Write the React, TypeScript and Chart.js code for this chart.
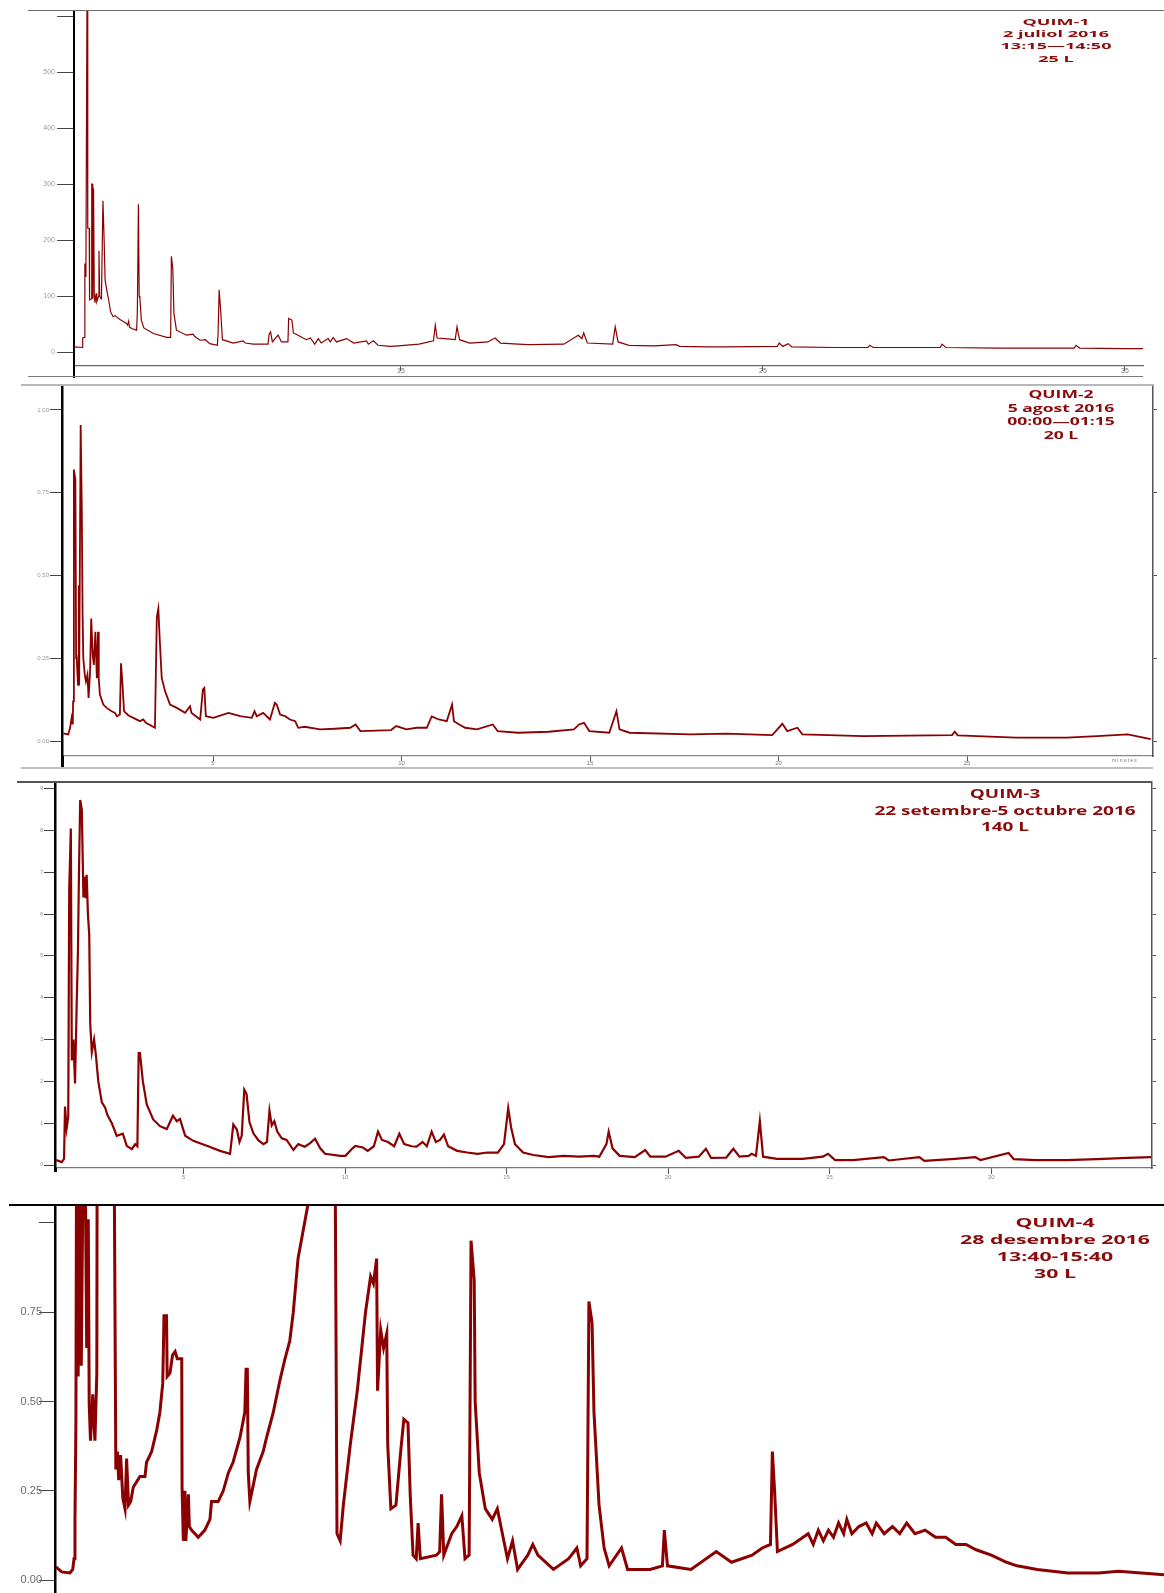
import React, { useEffect, useRef } from 'react';
import { Chart, registerables } from 'chart.js';

Chart.register(...registerables);

// ---- QUIM-1 chromatogram (retention time in minutes, detector response) ----
const P1_TIME = [
  5.97, 6.2, 6.21, 6.26, 6.27, 6.29, 6.3, 6.33, 6.35, 6.39, 6.4, 6.45, 6.46, 6.48, 6.49, 6.51, 6.53, 6.55,
  6.58, 6.6, 6.65, 6.66, 6.68, 6.72, 6.73, 6.77, 6.8, 6.83, 6.85, 6.89, 6.92, 6.98, 7.05, 7.1, 7.24, 7.3,
  7.42, 7.45, 7.48, 7.5, 7.56, 7.7, 7.72, 7.75, 7.77, 7.79, 7.83, 7.9, 8.16, 8.53, 8.64, 8.66, 8.7, 8.73,
  8.8, 9.08, 9.26, 9.3, 9.45, 9.6, 9.72, 9.93, 9.95, 9.98, 10.02, 10.07, 10.37, 10.64, 10.7, 10.92, 11.33,
  11.36, 11.4, 11.45, 11.61, 11.7, 11.88, 11.9, 11.99, 12.03, 12.16, 12.3, 12.39, 12.5, 12.62, 12.72, 12.8,
  12.99, 13.05, 13.13, 13.22, 13.5, 13.7, 14.05, 14.1, 14.24, 14.37, 14.7, 14.93, 15.5, 15.9, 15.95, 16.0,
  16.2, 16.5, 16.55, 16.62, 16.9, 17.4, 17.6, 17.75, 18.5, 19.5, 19.9, 20.0, 20.05, 20.15, 20.85, 20.92,
  21.0, 21.3, 22.0, 22.6, 22.7, 23.5, 24.0, 25.4, 25.45, 25.55, 25.7, 25.8, 27.0, 27.9, 27.95, 28.05, 29.9,
  29.95, 30.05, 31.5, 33.6, 33.65, 33.75, 35.0, 35.5,
];
const P1_SIGNAL = [
  9, 8, 25, 26, 158, 135, 160, 650, 221, 221, 93, 95, 300, 300, 95, 292, 100, 88,
  105, 90, 100, 181, 100, 95, 105, 270, 206, 128, 128, 105, 96, 72, 63, 65, 58, 56,
  51, 48, 55, 45, 42, 39, 72, 264, 100, 96, 57, 43, 33, 26, 26, 171, 148, 69,
  39, 30, 32, 28, 21, 22, 15, 12, 33, 111, 75, 22, 16, 20, 16, 14, 14,
  32, 36, 18, 30, 18, 18, 60, 57, 34, 30, 25, 22, 25, 14, 24, 16,
  24, 18, 26, 18, 24, 16, 20, 14, 20, 12, 10, 11, 14, 20, 48, 25,
  24, 22, 45, 22, 16, 18, 25, 16, 13, 14, 30, 24, 34, 16, 14, 45,
  18, 12, 11, 13, 10, 9, 9, 10, 16, 10, 15, 9, 8, 8, 12, 8, 8,
  14, 8, 7, 7, 12, 7, 6, 6,
];
const P1_X_TICKS = [15, 25, 35];
const P1_Y_TICKS = [0, 100, 200, 300, 400, 500, 600];
const P1_TITLE = ['QUIM-1', '2 juliol 2016', '13:15\u201414:50', '25 L'];

// ---- QUIM-2 chromatogram ----
const P2_TIME = [
  1.03, 1.16, 1.21, 1.25, 1.28, 1.29, 1.31, 1.35, 1.37, 1.38, 1.42, 1.44, 1.45, 1.49, 1.52, 1.54, 1.56, 1.6,
  1.63, 1.67, 1.7, 1.74, 1.77, 1.81, 1.84, 1.88, 1.92, 1.95, 1.97, 2.0, 2.09, 2.18, 2.31, 2.4, 2.45, 2.53,
  2.56, 2.6, 2.64, 2.75, 3.06, 3.15, 3.22, 3.46, 3.51, 3.55, 3.59, 3.64, 3.73, 3.86, 4.04, 4.26, 4.39, 4.43,
  4.66, 4.73, 4.77, 4.81, 5.01, 5.41, 5.72, 6.03, 6.1, 6.16, 6.33, 6.51, 6.64, 6.69, 6.78, 6.91, 7.04, 7.18,
  7.26, 7.43, 7.84, 8.24, 8.64, 8.78, 8.91, 9.72, 9.86, 10.13, 10.4, 10.67, 10.8, 10.99, 11.2, 11.34, 11.39,
  11.53, 11.69, 12.0, 12.42, 12.55, 13.09, 13.9, 14.57, 14.71, 14.84, 14.98, 15.51, 15.7, 15.78, 16.05,
  17.67, 18.61, 19.83, 20.1, 20.23, 20.5, 20.63, 22.25, 24.6, 24.67, 24.75, 26.3, 27.64, 28.45, 29.26, 29.87,
];
const P2_SIGNAL = [
  0.023, 0.02, 0.04, 0.07, 0.05, 0.12, 0.82, 0.79, 0.25, 0.26, 0.17, 0.47, 0.17, 0.955, 0.7, 0.39, 0.25, 0.2,
  0.18, 0.2, 0.13, 0.21, 0.37, 0.26, 0.23, 0.33, 0.19, 0.33, 0.19, 0.14, 0.11, 0.1, 0.09, 0.085, 0.075, 0.08,
  0.235, 0.17, 0.09, 0.078, 0.06, 0.065, 0.055, 0.04, 0.375, 0.4, 0.3, 0.19, 0.15, 0.11, 0.1, 0.085, 0.105, 0.085,
  0.065, 0.155, 0.16, 0.075, 0.07, 0.085, 0.075, 0.07, 0.09, 0.075, 0.085, 0.065, 0.115, 0.11, 0.08, 0.075, 0.065, 0.06,
  0.04, 0.043, 0.035, 0.037, 0.04, 0.05, 0.03, 0.033, 0.045, 0.035, 0.04, 0.04, 0.074, 0.065, 0.06, 0.11, 0.06,
  0.05, 0.04, 0.035, 0.05, 0.03, 0.025, 0.028, 0.035, 0.05, 0.055, 0.03, 0.025, 0.09, 0.035, 0.025,
  0.02, 0.022, 0.018, 0.052, 0.03, 0.04, 0.02, 0.015, 0.018, 0.028, 0.017, 0.01, 0.01, 0.015, 0.02, 0.006,
];
const P2_X_TICKS = [5, 10, 15, 20, 25];
const P2_Y_TICKS = [0, 0.25, 0.5, 0.75, 1.0];
const P2_TITLE = ['QUIM-2', '5 agost 2016', '00:00\u201401:15', '20 L'];

// ---- QUIM-3 chromatogram ----
const P3_TIME = [
  1.05, 1.23, 1.3, 1.33, 1.38, 1.43, 1.46, 1.51, 1.54, 1.59, 1.64, 1.69, 1.73, 1.76, 1.8, 1.85, 1.9, 1.94,
  1.97, 2.0, 2.04, 2.08, 2.11, 2.16, 2.23, 2.29, 2.36, 2.47, 2.57, 2.64, 2.78, 2.93, 3.12, 3.24, 3.4, 3.5,
  3.57, 3.61, 3.65, 3.74, 3.86, 4.06, 4.27, 4.48, 4.67, 4.79, 4.89, 5.05, 5.3, 5.72, 6.13, 6.44, 6.54, 6.65,
  6.73, 6.8, 6.88, 6.95, 7.04, 7.16, 7.32, 7.47, 7.58, 7.66, 7.73, 7.81, 7.9, 8.04, 8.19, 8.4, 8.55, 8.75,
  8.91, 9.07, 9.23, 9.38, 9.85, 10.01, 10.23, 10.32, 10.55, 10.7, 10.89, 11.02, 11.14, 11.33, 11.52, 11.68,
  11.83, 12.06, 12.21, 12.4, 12.53, 12.68, 12.81, 12.94, 13.06, 13.19, 13.47, 13.78, 14.1, 14.41, 14.73,
  14.92, 15.05, 15.14, 15.26, 15.51, 15.83, 16.3, 16.77, 17.24, 17.71, 17.87, 18.09, 18.16, 18.28, 18.5,
  18.97, 19.29, 19.45, 19.92, 20.33, 20.55, 20.95, 21.17, 21.33, 21.8, 22.02, 22.21, 22.49, 22.59, 22.72,
  22.84, 22.94, 23.37, 24.16, 24.79, 24.95, 25.17, 25.73, 26.68, 26.83, 27.78, 27.93, 28.88, 29.51, 29.67,
  30.54, 30.7, 31.39, 32.34, 33.28, 34.22, 34.95,
];
const P3_SIGNAL = [
  0.12, 0.07, 0.15, 1.4, 0.88, 1.15, 6.58, 8.05, 2.5, 3.0, 1.95, 3.8, 5.1, 6.87, 8.73, 8.5, 6.4, 6.9,
  6.38, 6.94, 6.0, 5.5, 3.4, 2.7, 3.0, 2.6, 2.0, 1.5, 1.38, 1.2, 1.0, 0.7, 0.75, 0.46, 0.38, 0.5,
  0.45, 2.68, 2.68, 2.0, 1.45, 1.09, 0.93, 0.86, 1.18, 1.05, 1.1, 0.7, 0.58, 0.46, 0.34, 0.27, 0.97, 0.85,
  0.55, 0.7, 1.8, 1.7, 1.03, 0.76, 0.59, 0.5, 0.55, 1.3, 0.95, 1.05, 0.8, 0.64, 0.6, 0.36, 0.5, 0.44,
  0.52, 0.63, 0.4, 0.27, 0.22, 0.22, 0.4, 0.46, 0.42, 0.34, 0.45, 0.8, 0.6, 0.55, 0.45, 0.75,
  0.5, 0.45, 0.44, 0.55, 0.45, 0.8, 0.55, 0.6, 0.73, 0.45, 0.34, 0.3, 0.27, 0.3, 0.3,
  0.5, 1.36, 0.9, 0.5, 0.3, 0.24, 0.19, 0.22, 0.2, 0.22, 0.2, 0.5, 0.8, 0.4, 0.22,
  0.19, 0.36, 0.2, 0.2, 0.34, 0.17, 0.2, 0.39, 0.17, 0.18, 0.39, 0.2, 0.22, 0.27, 0.22,
  1.05, 0.2, 0.15, 0.15, 0.2, 0.27, 0.12, 0.12, 0.19, 0.11, 0.19, 0.1, 0.15, 0.19, 0.12,
  0.29, 0.14, 0.12, 0.12, 0.14, 0.17, 0.19,
];
const P3_X_TICKS = [5, 10, 15, 20, 25, 30];
const P3_Y_TICKS = [0, 1, 2, 3, 4, 5, 6, 7, 8, 9];
const P3_TITLE = ['QUIM-3', '22 setembre-5 octubre 2016', '140 L'];

// ---- QUIM-4 chromatogram ----
const P4_TIME = [
  1.03, 1.21, 1.47, 1.56, 1.6, 1.63, 1.66, 1.68, 1.73, 1.75, 1.79, 1.83, 1.89, 1.95, 2.0, 2.02, 2.05, 2.08,
  2.12, 2.19, 2.26, 2.32, 2.33, 2.39, 2.86, 2.92, 2.97, 3.01, 3.07, 3.14, 3.21, 3.26, 3.32, 3.39, 3.47, 3.68,
  3.84, 3.89, 4.05, 4.21, 4.31, 4.4, 4.44, 4.52, 4.54, 4.63, 4.71, 4.79, 4.86, 5.0, 5.01, 5.05, 5.1, 5.13,
  5.21, 5.24, 5.31, 5.52, 5.73, 5.89, 5.94, 6.15, 6.31, 6.47, 6.62, 6.84, 6.99, 7.03, 7.07, 7.1, 7.15, 7.36,
  7.57, 7.68, 7.89, 8.1, 8.26, 8.41, 8.52, 8.67, 8.98, 9.1, 9.84, 9.9, 10.0, 10.1, 10.32, 10.54, 10.8, 10.96,
  11.05, 11.15, 11.18, 11.28, 11.37, 11.47, 11.5, 11.6, 11.76, 11.92, 12.01, 12.14, 12.21, 12.3, 12.4, 12.46,
  12.53, 13.04, 13.14, 13.2, 13.27, 13.52, 13.68, 13.84, 13.94, 14.07, 14.13, 14.23, 14.26, 14.39, 14.58,
  14.8, 14.96, 15.12, 15.28, 15.44, 15.6, 15.92, 16.08, 16.24, 16.73, 17.21, 17.47, 17.59, 17.79, 17.85,
  17.95, 18.01, 18.17, 18.33, 18.49, 18.88, 19.07, 19.78, 20.17, 20.23, 20.33, 21.07, 21.87, 22.35, 23.0,
  23.32, 23.58, 23.64, 23.71, 23.8, 24.28, 24.61, 24.77, 24.93, 25.09, 25.25, 25.41, 25.57, 25.73, 25.89,
  25.99, 26.15, 26.37, 26.6, 26.79, 26.92, 27.17, 27.43, 27.66, 27.88, 28.14, 28.46, 28.79, 29.11, 29.43,
  29.75, 30.07, 30.55, 31.03, 31.36, 32.0, 32.97, 33.93, 34.57, 36.05,
];
const P4_SIGNAL = [
  0.037, 0.023, 0.02, 0.03, 0.06, 0.165, 0.445, 1.2, 0.57, 0.57, 1.2, 0.6, 1.2, 1.2, 0.65, 0.67, 1.01, 0.49,
  0.39, 0.52, 0.39, 0.58, 1.2, 1.3, 1.3, 0.31, 0.36, 0.28, 0.35, 0.23, 0.2, 0.34, 0.21, 0.22, 0.26, 0.29,
  0.29, 0.33, 0.36, 0.42, 0.47, 0.55, 0.74, 0.74, 0.57, 0.58, 0.63, 0.64, 0.62, 0.62, 0.26, 0.11, 0.25, 0.11,
  0.24, 0.15, 0.14, 0.12, 0.14, 0.17, 0.22, 0.22, 0.25, 0.3, 0.33, 0.4, 0.47, 0.59, 0.59, 0.3, 0.22, 0.31,
  0.36, 0.4, 0.47, 0.56, 0.62, 0.67, 0.75, 0.9, 1.05, 1.15, 1.2, 0.13, 0.11, 0.21, 0.38, 0.53, 0.75, 0.85,
  0.83, 0.9, 0.53, 0.7, 0.65, 0.69, 0.38, 0.2, 0.21, 0.37, 0.45, 0.44, 0.24, 0.07, 0.06, 0.16,
  0.06, 0.07, 0.08, 0.24, 0.07, 0.13, 0.15, 0.18, 0.06, 0.07, 0.95, 0.84, 0.5, 0.3, 0.2,
  0.17, 0.2, 0.13, 0.06, 0.11, 0.03, 0.07, 0.1, 0.07, 0.03, 0.06, 0.09, 0.04, 0.06, 0.78,
  0.72, 0.47, 0.21, 0.09, 0.04, 0.09, 0.03, 0.03, 0.04, 0.14, 0.04, 0.03, 0.08, 0.05, 0.07,
  0.09, 0.1, 0.36, 0.25, 0.08, 0.1, 0.12, 0.13, 0.1, 0.14, 0.11, 0.14, 0.12, 0.16, 0.13,
  0.17, 0.13, 0.15, 0.16, 0.13, 0.16, 0.13, 0.15, 0.13, 0.16, 0.13, 0.14, 0.12, 0.12, 0.1,
  0.1, 0.085, 0.07, 0.05, 0.04, 0.03, 0.02, 0.02, 0.025, 0.015,
];
const P4_Y_TICKS = [0, 0.25, 0.5, 0.75, 1.0];
const P4_TITLE = ['QUIM-4', '28 desembre 2016', '13:40-15:40', '30 L'];

const TRACE_RED = '#8b0000';
const TITLE_RED = '#8a0b0b';
const SANS = "'Liberation Sans', Arial, sans-serif";

type Panel = {
  top: number; height: number;
  time: number[]; signal: number[];
  xMin: number; xMax: number; yMin: number; yMax: number;
  xTicks: number[]; yTicks: number[];
  xLabel: (v: number) => string; yLabel: (v: number) => string;
  xShow: boolean; xHeight: number; xTickLen: number; xPad: number; xFont: number; xColor: string; xAxisColor: string;
  yWidth: number; yTickLen: number; yPad: number; yFont: number; yColor: string; yAxisWidth: number;
  rightAxis: boolean; padTop: number; padRight: number;
  lineWidth: number;
};

const PANELS: Panel[] = [
  {
    top: 0, height: 380, time: P1_TIME, signal: P1_SIGNAL,
    xMin: 5.97, xMax: 35.5, yMin: -25, yMax: 609,
    xTicks: P1_X_TICKS, yTicks: P1_Y_TICKS,
    xLabel: (v) => String(v), yLabel: (v) => (v === 600 ? '' : String(v)),
    xShow: true, xHeight: 14, xTickLen: 5, xPad: -4, xFont: 7, xColor: '#777', xAxisColor: '#666',
    yWidth: 74, yTickLen: 17, yPad: 2, yFont: 7, yColor: '#9a9a9a', yAxisWidth: 2,
    rightAxis: false, padTop: 11, padRight: 21, lineWidth: 1.2,
  },
  {
    top: 380, height: 390, time: P2_TIME, signal: P2_SIGNAL,
    xMin: 0.995, xMax: 29.93, yMin: -0.0453, yMax: 1.0755,
    xTicks: P2_X_TICKS, yTicks: P2_Y_TICKS,
    xLabel: (v) => String(v), yLabel: (v) => v.toFixed(2),
    xShow: true, xHeight: 14, xTickLen: 5, xPad: -1, xFont: 6, xColor: '#777', xAxisColor: '#888',
    yWidth: 62, yTickLen: 12, yPad: 1, yFont: 6, yColor: '#999', yAxisWidth: 2.5,
    rightAxis: true, padTop: 5, padRight: 6, lineWidth: 1.8,
  },
  {
    top: 770, height: 420, time: P3_TIME, signal: P3_SIGNAL,
    xMin: 1.02, xMax: 34.98, yMin: -0.07, yMax: 9.16,
    xTicks: P3_X_TICKS, yTicks: P3_Y_TICKS,
    xLabel: (v) => String(v), yLabel: (v) => String(v),
    xShow: true, xHeight: 22, xTickLen: 6, xPad: 0, xFont: 6, xColor: '#8a8a8a', xAxisColor: '#777',
    yWidth: 55, yTickLen: 11, yPad: 1, yFont: 5, yColor: '#6f8aa8', yAxisWidth: 2.5,
    rightAxis: true, padTop: 12, padRight: 7, lineWidth: 2.2,
  },
  {
    top: 1190, height: 403, time: P4_TIME, signal: P4_SIGNAL,
    xMin: 1, xMax: 36, yMin: -0.036, yMax: 1.05,
    xTicks: [], yTicks: P4_Y_TICKS,
    xLabel: (v) => String(v), yLabel: (v) => (v === 1 ? '' : v.toFixed(2)),
    xShow: false, xHeight: 0, xTickLen: 0, xPad: 0, xFont: 6, xColor: '#777', xAxisColor: '#777',
    yWidth: 55, yTickLen: 16, yPad: -3, yFont: 11, yColor: '#6b6b6b', yAxisWidth: 2.5,
    rightAxis: false, padTop: 15, padRight: 0, lineWidth: 3,
  },
];

function buildChart(canvas: HTMLCanvasElement, p: Panel) {
  const scales: any = {
    x: {
      type: 'linear', min: p.xMin, max: p.xMax, bounds: 'data', display: p.xShow,
      border: { display: true, color: p.xAxisColor, width: 1.2 },
      grid: { display: true, drawOnChartArea: false, drawTicks: true, tickLength: p.xTickLen, color: '#555' },
      ticks: { font: { family: SANS, size: p.xFont }, color: p.xColor, padding: p.xPad, maxRotation: 0, autoSkip: false, callback: (v: number) => p.xLabel(v) },
      afterBuildTicks: (s: any) => { s.ticks = p.xTicks.map((v) => ({ value: v })); },
      afterFit: (s: any) => { s.height = p.xHeight; s.paddingLeft = 0; s.paddingRight = 0; s.paddingTop = 0; s.paddingBottom = 0; },
    },
    y: {
      type: 'linear', position: 'left', min: p.yMin, max: p.yMax, bounds: 'data',
      border: { display: true, color: '#000', width: p.yAxisWidth },
      grid: { display: true, drawOnChartArea: false, drawTicks: true, tickLength: p.yTickLen, color: '#444' },
      ticks: { font: { family: SANS, size: p.yFont }, color: p.yColor, padding: p.yPad, autoSkip: false, callback: (v: number) => p.yLabel(v) },
      afterBuildTicks: (s: any) => { s.ticks = p.yTicks.map((v) => ({ value: v })); },
      afterFit: (s: any) => { s.width = p.yWidth; s.paddingTop = 0; s.paddingBottom = 0; s.paddingLeft = 0; s.paddingRight = 0; },
    },
  };
  if (p.rightAxis) {
    scales.yR = {
      type: 'linear', position: 'right', min: p.yMin, max: p.yMax, bounds: 'data',
      border: { display: true, color: '#555', width: 1.5 },
      grid: { display: true, drawOnChartArea: false, drawTicks: true, tickLength: 4, color: '#555' },
      ticks: { display: true, callback: () => '' },
      afterBuildTicks: (s: any) => { s.ticks = p.yTicks.map((v) => ({ value: v })); },
      afterFit: (s: any) => { s.width = 5; s.paddingTop = 0; s.paddingBottom = 0; },
    };
  }
  return new Chart(canvas, {
    type: 'line',
    data: {
      datasets: [{
        data: p.time.map((t, i) => ({ x: t, y: p.signal[i] })),
        borderColor: TRACE_RED,
        borderWidth: p.lineWidth,
        pointRadius: 0,
        tension: 0,
        fill: false,
        yAxisID: 'y',
      }],
    },
    options: {
      responsive: false,
      animation: false,
      devicePixelRatio: 1,
      layout: { padding: { top: p.padTop, right: p.padRight, bottom: 0, left: 0 } },
      plugins: { legend: { display: false }, tooltip: { enabled: false }, title: { display: false } },
      scales,
    },
  });
}

function Title({ lines, cx, top, size, lh, stretch }: { lines: string[]; cx: number; top: number; size: number; lh: number; stretch: number }) {
  return (
    <div
      style={{
        position: 'absolute', left: cx - 200, top, width: 400, textAlign: 'center',
        fontFamily: "'Open Sans', 'DejaVu Sans', sans-serif", fontWeight: 700, fontSize: size,
        lineHeight: `${lh}px`, color: TITLE_RED, transform: `scaleX(${stretch})`, transformOrigin: 'center top',
        whiteSpace: 'nowrap',
      }}
    >
      {lines.map((l) => (<div key={l}>{l}</div>))}
    </div>
  );
}

function Rule({ x, y, w, h, c }: { x: number; y: number; w: number; h: number; c: string }) {
  return <div style={{ position: 'absolute', left: x, top: y, width: w, height: h, background: c }} />;
}

export default function App() {
  const refs = [useRef<HTMLCanvasElement>(null), useRef<HTMLCanvasElement>(null), useRef<HTMLCanvasElement>(null), useRef<HTMLCanvasElement>(null)];

  useEffect(() => {
    document.body.style.margin = '0';
    const charts = PANELS.map((p, i) => buildChart(refs[i].current as HTMLCanvasElement, p));
    return () => charts.forEach((c) => c.destroy());
  }, []);

  return (
    <div style={{ position: 'relative', width: 1164, height: 1593, background: '#fff', overflow: 'hidden' }}>
      {PANELS.map((p, i) => (
        <canvas
          key={i}
          ref={refs[i]}
          width={1164}
          height={p.height}
          style={{ position: 'absolute', left: 0, top: p.top, width: 1164, height: p.height }}
        />
      ))}

      {/* frame rules around the four traces */}
      <Rule x={28} y={10} w={1136} h={1.3} c="#6e6e6e" />
      <Rule x={73} y={366} w={2} h={12} c="#000" />
      <Rule x={28} y={376} w={1115} h={1.3} c="#7a7a7a" />
      <Rule x={21} y={384} w={1132} h={2} c="#b8b8b8" />
      <Rule x={61} y={756} w={2.5} h={12} c="#000" />
      <Rule x={21} y={767} w={1132} h={2} c="#bdbdbd" />
      <Rule x={17} y={781} w={1135} h={1.6} c="#555" />
      <Rule x={54} y={1168} w={2.5} h={4} c="#000" />
      <Rule x={9} y={1204} w={1155} h={2.2} c="#000" />

      <div style={{ position: 'absolute', left: 1112, top: 757, fontFamily: SANS, fontSize: 5, letterSpacing: 1.2, color: '#777' }}>minutes</div>

      <Title lines={P1_TITLE} cx={1056} top={16} size={9.5} lh={12.2} stretch={1.9} />
      <Title lines={P2_TITLE} cx={1061} top={388} size={10} lh={13.6} stretch={1.75} />
      <Title lines={P3_TITLE} cx={1005} top={786} size={12} lh={16.5} stretch={1.58} />
      <Title lines={P4_TITLE} cx={1055} top={1214} size={12.6} lh={17} stretch={1.69} />
    </div>
  );
}
